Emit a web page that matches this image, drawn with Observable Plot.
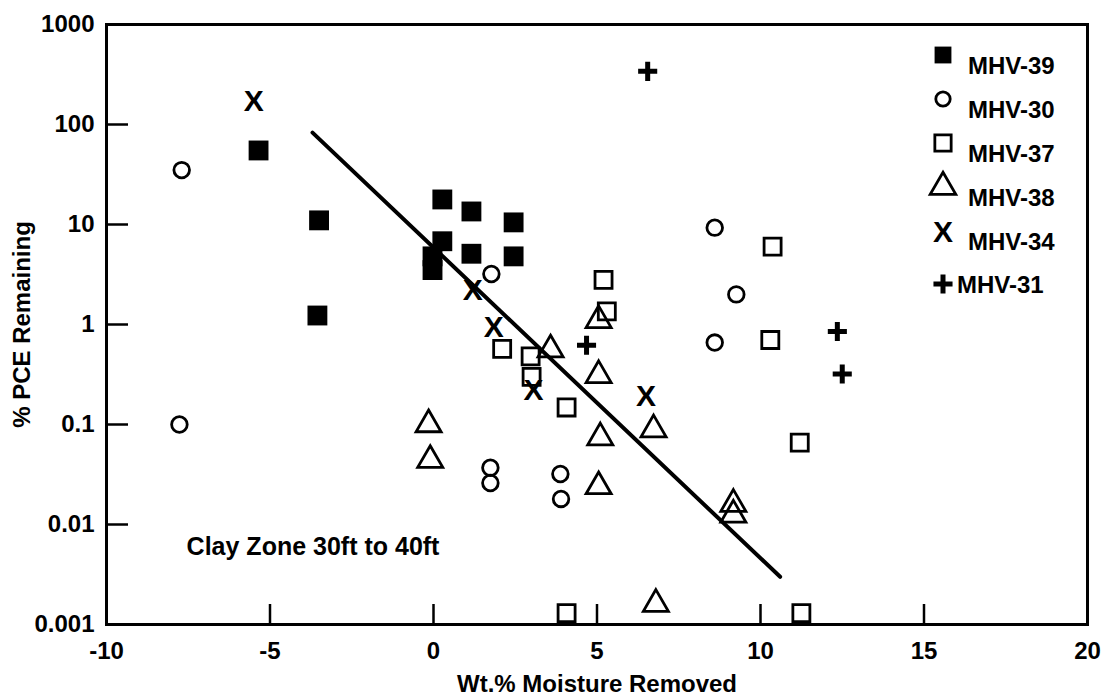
<!DOCTYPE html>
<html><head><meta charset="utf-8">
<script src="https://cdn.jsdelivr.net/npm/d3@7"></script>
<script src="https://cdn.jsdelivr.net/npm/@observablehq/plot@0.6"></script>
<style>
body{margin:0;background:#fff;}
#wrap{position:relative;width:1112px;height:700px;font-family:"Liberation Sans",Arial,Helvetica,sans-serif;}
#legend{position:absolute;left:925px;top:41px;font-weight:bold;font-size:24px;color:#000;}
.row{position:relative;height:44px;width:150px;}
.row svg{position:absolute;left:0;top:0;}
.row span{position:absolute;left:43px;top:11px;white-space:nowrap;}
</style></head><body><div id="wrap"></div>
<script>
// ---- data ----
const seriesNames = ["MHV-39", "MHV-30", "MHV-37", "MHV-38", "MHV-34", "MHV-31"];

const mhv39X = [-5.35, -3.5, -3.55, 0.27, 0.27, -0.03, -0.03, 1.16, 1.16, 2.45, 2.45];
const mhv39Y = [55, 11, 1.23, 17.8, 6.8, 4.8, 3.5, 13.5, 5.1, 10.5, 4.8];

const mhv30X = [-7.7, -7.77, 1.77, 1.74, 1.74, 3.88, 3.9, 8.6, 9.26, 8.6];
const mhv30Y = [35, 0.1, 3.2, 0.037, 0.026, 0.032, 0.018, 9.3, 2.0, 0.66];

const mhv37X = [5.2, 5.3, 2.1, 2.97, 3.0, 4.07, 11.2, 4.07, 11.25, 10.37, 10.3];
const mhv37Y = [2.8, 1.35, 0.57, 0.48, 0.3, 0.148, 0.066, 0.0013, 0.0013, 6.0, 0.7];

const mhv38X = [5.05, 3.58, 5.05, -0.15, 5.1, 6.73, -0.1, 5.05, 9.17, 9.17, 6.8];
const mhv38Y = [1.1, 0.56, 0.31, 0.1, 0.074, 0.089, 0.044, 0.024, 0.016, 0.0125, 0.0016];

const mhv34X = [-5.5, 1.2, 1.84, 3.06, 6.5];
const mhv34Y = [170, 2.2, 0.93, 0.22, 0.19];

const mhv31X = [6.55, 4.68, 12.35, 12.5];
const mhv31Y = [340, 0.62, 0.85, 0.32];

const fitX = [-3.7, 10.6];
const fitY = [83, 0.003];

const xTicks = [-10, -5, 0, 5, 10, 15, 20];
const yTicks = [0.001, 0.01, 0.1, 1, 10, 100, 1000];

const noteText = ["Clay Zone 30ft to 40ft"];
const noteX = [-7.55];
const noteY = [0.006];

// ---- build tables ----
const pts = (xs, ys, s) => xs.map((x, i) => ({series: s, x, y: ys[i]}));
const d39 = pts(mhv39X, mhv39Y, "MHV-39");
const d30 = pts(mhv30X, mhv30Y, "MHV-30");
const d37 = pts(mhv37X, mhv37Y, "MHV-37");
const d38 = pts(mhv38X, mhv38Y, "MHV-38");
const d34 = pts(mhv34X, mhv34Y, "MHV-34");
const d31 = pts(mhv31X, mhv31Y, "MHV-31");
const fit = pts(fitX, fitY, "fit");
const notes = noteText.map((t, i) => ({t, x: noteX[i], y: noteY[i]}));

const W = 1112, H = 700, mL = 106, mR = 25, mT = 24, mB = 76;
const plotW = W - mL - mR, plotH = H - mT - mB;
const font = '"Liberation Sans", Arial, Helvetica, sans-serif';

const chart = Plot.plot({
  width: W, height: H,
  marginLeft: mL, marginRight: mR, marginTop: mT, marginBottom: mB,
  style: {fontFamily: font, background: "#fff", color: "#000"},
  x: {domain: [-10, 20]},
  y: {type: "log", domain: [0.001, 1000]},
  marks: [
    Plot.tickX(xTicks.slice(1, -1), {x: d => d, insetTop: plotH - 20, strokeWidth: 2.5, stroke: "#000"}),
    Plot.tickY(yTicks.slice(1, -1), {y: d => d, insetRight: plotW - 22, strokeWidth: 2.5, stroke: "#000"}),
    Plot.axisX({ticks: xTicks, tickSize: 0, tickPadding: 17, tickFormat: d => String(d),
      fontSize: 24, fontWeight: "bold",
      label: "Wt.% Moisture Removed", labelAnchor: "center", labelOffset: 67, labelArrow: "none"}),
    Plot.axisY({ticks: yTicks, tickSize: 0, tickPadding: 12, tickFormat: d => String(d),
      fontSize: 24, fontWeight: "bold",
      label: "% PCE Remaining", labelAnchor: "center", labelOffset: 94, labelArrow: "none"}),
    Plot.line(fit, {x: "x", y: "y", stroke: "#000", strokeWidth: 4}),
    Plot.dot(d39, {x: "x", y: "y", symbol: "square", r: 11.2, fill: "#000", stroke: "none"}),
    Plot.dot(d30, {x: "x", y: "y", symbol: "circle", r: 7.8, fill: "none", stroke: "#000", strokeWidth: 2.8}),
    Plot.dot(d37, {x: "x", y: "y", symbol: "square", r: 9.6, fill: "none", stroke: "#000", strokeWidth: 2.8}),
    Plot.dot(d38, {x: "x", y: "y", symbol: "triangle", r: 9.3, fill: "none", stroke: "#000", strokeWidth: 2.8}),
    Plot.text(d34, {x: "x", y: "y", text: () => "X", fontSize: 30, fontWeight: "bold", fill: "#000"}),
    Plot.dot(d31, {x: "x", y: "y", symbol: "plus", r: 6.2, stroke: "#000", strokeWidth: 5}),
    Plot.text(notes, {x: "x", y: "y", text: "t", textAnchor: "start", fontSize: 25, fontWeight: "bold", fill: "#000"}),
    Plot.frame({stroke: "#000", strokeWidth: 3})
  ]
});

const wrap = document.getElementById("wrap");
wrap.appendChild(chart);

// ---- legend (HTML overlay) ----
const legend = document.createElement("div");
legend.id = "legend";
const legendSymbols = {
  "MHV-39": {type: "square", r: 9.5, fill: "#000", stroke: "none", sw: 0},
  "MHV-30": {type: "circle", r: 7.2, fill: "none", stroke: "#000", sw: 2.8},
  "MHV-37": {type: "square", r: 9.2, fill: "none", stroke: "#000", sw: 2.8},
  "MHV-38": {type: "triangle", r: 9.5, fill: "none", stroke: "#000", sw: 2.8},
  "MHV-34": {type: "X"},
  "MHV-31": {type: "plus", r: 6.2, fill: "none", stroke: "#000", sw: 5}
};
const symMap = {square: d3.symbolSquare, circle: d3.symbolCircle, triangle: d3.symbolTriangle, plus: d3.symbolPlus};
seriesNames.forEach((name, i) => {
  const row = document.createElement("div");
  row.className = "row";
  const s = legendSymbols[name];
  const svg = d3.create("svg").attr("width", 36).attr("height", 36)
    .style("top", (i === 5 ? 5 : -4) + "px");
  if (s.type === "X") {
    svg.append("text").attr("x", 18).attr("y", 18).attr("text-anchor", "middle")
      .attr("dy", "0.35em").attr("font-size", 30).attr("font-weight", "bold")
      .attr("font-family", font).text("X");
  } else {
    svg.append("path").attr("transform", "translate(18,18)")
      .attr("d", d3.symbol(symMap[s.type], Math.PI * s.r * s.r)())
      .attr("fill", s.fill).attr("stroke", s.stroke).attr("stroke-width", s.sw);
  }
  row.appendChild(svg.node());
  const span = document.createElement("span");
  span.textContent = name;
  if (i === 5) span.style.left = "32px", span.style.top = "10px";
  row.appendChild(span);
  legend.appendChild(row);
});
wrap.appendChild(legend);
</script>
</body></html>
